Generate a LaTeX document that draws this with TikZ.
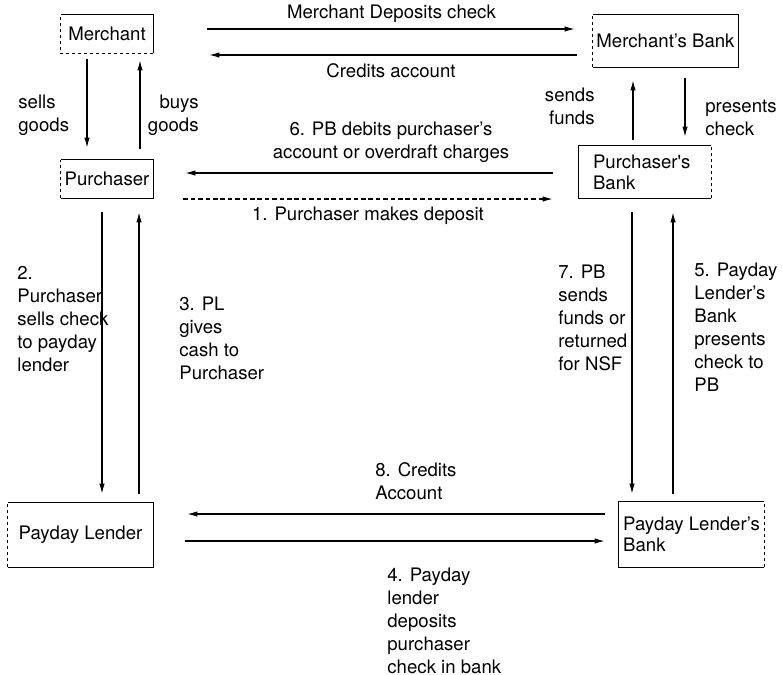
\documentclass[tikz,border=0pt]{standalone}
\usepackage{fontspec}
\setmainfont{TeX Gyre Heros}
\usetikzlibrary{arrows.meta,calc}
\tikzstyle{arrow} = [line width=0.55pt,-{Latex[length=5pt,width=2.7pt]}]
\tikzstyle{party} = [rectangle, inner sep=0pt, align=left, font=\fontsize{9.3}{10.5}\selectfont]
\tikzstyle{edge} = [line width=0.65pt]
\tikzstyle{dashedside} = [line width=0.65pt, dash pattern=on 1.8pt off 1.2pt]
\tikzstyle{lbl} = [inner sep=0pt, font=\fontsize{9.3}{11.5}\selectfont]

\begin{document}
\begin{tikzpicture}[x=0.5pt,y=-0.5pt]
\useasboundingbox (0,0) rectangle (783,675);

% parties
\node[party, minimum width=46pt, minimum height=19pt] (merchant) at (107,34) {Merchant};
\node[party, minimum width=72.5pt, minimum height=26pt] (mbank) at (665.5,41) {Merchant’s Bank};
\node[party, minimum width=46pt, minimum height=19pt] (purchaser) at (107,179) {Purchaser};
\node[party, text width=52pt, inner xsep=7pt, minimum height=26pt] (pbank) at (645,172) {Purchaser\textquotesingle s\\Bank};
\node[party, minimum width=72.5pt, minimum height=32pt] (lender) at (80.5,535) {Payday Lender};
\node[party, minimum width=72.5pt, minimum height=32.5pt] (lbank) at (691.5,534.5) {Payday Lender’s\\Bank};

% outlines (one or two sides dashed)
\draw[edge] (merchant.south east) -- (merchant.north east) -- (merchant.north west);
\draw[dashedside] (merchant.south east) -- (merchant.south west) -- (merchant.north west);
\draw[edge] (mbank.north west) -- (mbank.north east) -- (mbank.south east) -- (mbank.south west);
\draw[dashedside] (mbank.south west) -- (mbank.north west);
\draw[edge] (purchaser.north west) -- (purchaser.north east) -- (purchaser.south east) -- (purchaser.south west);
\draw[dashedside] (purchaser.south west) -- (purchaser.north west);
\draw[edge] (pbank.north east) -- (pbank.north west) -- (pbank.south west) -- (pbank.south east);
\draw[dashedside] (pbank.south east) -- (pbank.north east);
\draw[edge] (lender.north west) -- (lender.north east) -- (lender.south east) -- (lender.south west);
\draw[dashedside] (lender.south west) -- (lender.north west);
\draw[edge] (lbank.north east) -- (lbank.north west) -- (lbank.south west) -- (lbank.south east);
\draw[dashedside] (lbank.south east) -- (lbank.north east);

% connectors
\draw[arrow] ($(merchant.east)+(54,-5)$) -- ($(mbank.west)+(-18,-12)$);
\draw[arrow] ($(mbank.west)+(-16,14)$) -- ($(merchant.east)+(56,21)$);
\draw[arrow] ($(merchant.south)+(-20,6)$) -- ($(purchaser.north)+(-20,-12)$);
\draw[arrow] ($(purchaser.north)+(33,-11)$) -- ($(merchant.south)+(33,7)$);
\draw[arrow] ($(pbank.north)+(-12,-6)$) -- ($(mbank.south)+(-32.5,13)$);
\draw[arrow] ($(mbank.south)+(19.5,11)$) -- ($(pbank.north)+(40,-9)$);
\draw[arrow] ($(pbank.west)+(-26,1)$) -- ($(purchaser.east)+(32,-6)$);
\draw[arrow, dash pattern=on 2.3pt off 1.4pt] ($(purchaser.east)+(30,20)$) -- ($(pbank.west)+(-26,27)$);
\draw[arrow] ($(purchaser.south)+(-5,14)$) -- ($(lender.north)+(21.5,-9)$);
\draw[arrow] ($(lender.north)+(58.5,-9)$) -- ($(purchaser.south)+(32,14)$);
\draw[arrow] ($(pbank.south)+(-13,14)$) -- ($(lbank.north)+(-59.5,-8)$);
\draw[arrow] ($(lbank.north)+(-18.5,-8)$) -- ($(pbank.south)+(28,14)$);
\draw[arrow] ($(lbank.west)+(-14,-20.5)$) -- ($(lender.east)+(34,-21)$);
\draw[arrow] ($(lender.east)+(32,6)$) -- ($(lbank.west)+(-14,6.5)$);

% labels
\node[lbl] (deplbl) at (391.5,14) {Merchant Deposits check};
\node[lbl] (credlbl) at (391,71) {Credits account};
\node[lbl, anchor=west, align=left] (sellslbl) at (18,115.5) {sells\\goods};
\node[lbl, anchor=east, align=right] (buyslbl) at (199,115.5) {buys\\goods};
\node[lbl, anchor=east, align=right] (sendslbl) at (595,106) {sends\\funds};
\node[lbl, anchor=west, align=left] (preslbl) at (705,117.5) {presents\\check};
\node[lbl, align=center] (debitlbl) at (391,142) {6. PB debits purchaser’s\\account or overdraft charges};
\node[lbl] (deposlbl) at (368,216) {1. Purchaser makes deposit};
\node[lbl, anchor=west, align=left] (selllbl) at (17,319) {2.\\Purchaser\\sells check\\to payday\\lender};
\node[lbl, anchor=west, align=left] (cashlbl) at (179,338.5) {3. PL\\gives\\cash to\\Purchaser};
\node[lbl, anchor=west, align=left] (fundslbl) at (558,318) {7. PB\\sends\\funds or\\returned\\for NSF};
\node[lbl, anchor=west, align=left] (presentlbl) at (694,327.5) {5. Payday\\Lender’s\\Bank\\presents\\check to\\PB};
\node[lbl, anchor=west, align=left] (credacclbl) at (375,481.5) {8. Credits\\Account};
\node[lbl, anchor=west, align=left] (lenddeplbl) at (387,621) {4. Payday\\lender\\deposits\\purchaser\\check in bank};
\end{tikzpicture}
\end{document}
